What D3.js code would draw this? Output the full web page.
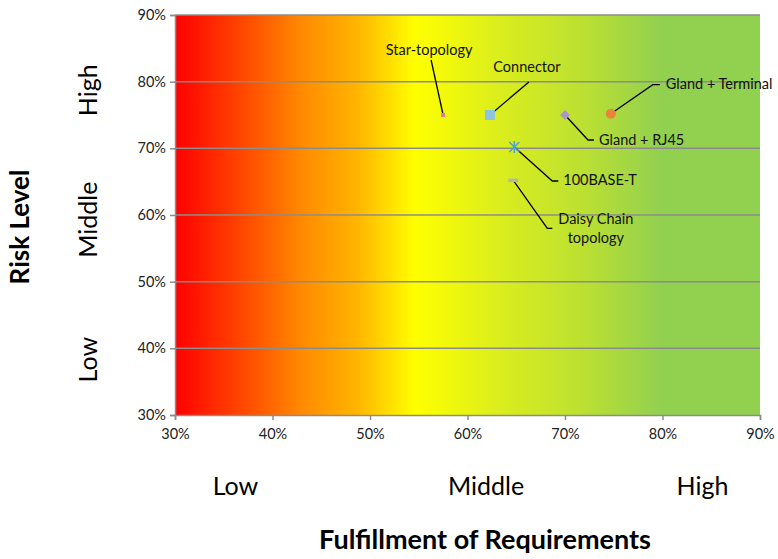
<!DOCTYPE html>
<html><head><meta charset="utf-8">
<script src="https://cdn.jsdelivr.net/npm/d3@7"></script>
<style>html,body{margin:0;padding:0;background:#fff;} svg{display:block;font-family:Lato,"Open Sans",sans-serif;}</style>
</head><body><svg id="c" width="778" height="559"></svg>
<script>
// ---- data ----
const pointLabels = ["Star-topology","Connector","Gland + RJ45","Gland + Terminal","100BASE-T","Daisy Chain topology"];
const fulfillment = [0.575, 0.623, 0.70, 0.747, 0.648, 0.647];
const riskLevel   = [0.75, 0.75, 0.75, 0.752, 0.702, 0.652];
const xTicks = [0.3,0.4,0.5,0.6,0.7,0.8,0.9];
const yTicks = [0.3,0.4,0.5,0.6,0.7,0.8,0.9];
const xCategories = ["Low","Middle","High"];
const xCategoryPos = [0.362, 0.619, 0.841];
const yCategories = ["Low","Middle","High"];
const yCategoryPos = [0.383, 0.593, 0.787];

// ---- layout ----
const svg = d3.select("#c");
const L=175,R=760,T=15,B=415;
const x = d3.scaleLinear().domain([0.3,0.9]).range([L,R]);
const y = d3.scaleLinear().domain([0.3,0.9]).range([B,T]);

const defs = svg.append("defs");
const g = defs.append("linearGradient").attr("id","bg").attr("x1","0").attr("x2","1").attr("y1","0").attr("y2","0");
[[0,"#ff0000"],[0.12,"#ff4a00"],[0.22,"#ff8c00"],[0.31,"#ffb400"],[0.41,"#ffff00"],[0.55,"#dcee1c"],[0.7,"#bbe032"],[0.83,"#92d050"],[1,"#92d050"]]
  .forEach(([o,c])=>g.append("stop").attr("offset",o).attr("stop-color",c));

svg.append("rect").attr("x",L).attr("y",T).attr("width",R-L).attr("height",B-T).attr("fill","url(#bg)");

// gridlines
svg.append("g").selectAll("line").data(yTicks.slice(1)).join("line")
  .attr("x1",L).attr("x2",R).attr("y1",d=>y(d)).attr("y2",d=>y(d))
  .attr("stroke","#8c8c8c").attr("stroke-width",1.5);

// axes
const fmt = d3.format(".0%");
const ya = svg.append("g").attr("transform",`translate(${L},0)`)
  .call(d3.axisLeft(y).tickValues(yTicks).tickFormat(fmt).tickSize(5).tickPadding(4));
const xa = svg.append("g").attr("transform",`translate(0,${B})`)
  .call(d3.axisBottom(x).tickValues(xTicks).tickFormat(fmt).tickSize(5).tickPadding(9));
[ya,xa].forEach(a=>{
  a.select(".domain").attr("stroke","#8c8c8c").attr("stroke-width",1.5);
  a.selectAll(".tick line").attr("stroke","#8c8c8c").attr("stroke-width",1.5);
  a.selectAll("text").attr("font-size",14.5).attr("fill","#222").attr("font-family","Lato,sans-serif");
});

// leader lines & labels (offsets relative to point, px)
const leader = [
  {pts:[[-12,-55]], lx:-14, ly:-64, anchor:"middle"},
  {pts:[[39,-33]], lx:37, ly:-47, anchor:"middle"},
  {pts:[[23,25],[29,25]], lx:34, ly:26, anchor:"start"},
  {pts:[[42,-29],[49,-29]], lx:55, ly:-28, anchor:"start"},
  {pts:[[38,34],[44,34]], lx:49, ly:34, anchor:"start"},
  {pts:[[34,48],[39,48]], lx:45, ly:40, anchor:"start"}
];
const FS=14.5;
const ann = svg.append("g");
pointLabels.forEach((lab,i)=>{
  const px=x(fulfillment[i]), py=y(riskLevel[i]);
  const lay=leader[i];
  const path=[[px,py]].concat(lay.pts.map(p=>[px+p[0],py+p[1]]));
  ann.append("path").attr("d",d3.line()(path)).attr("fill","none").attr("stroke","#000").attr("stroke-width",1.3);
  const t=ann.append("text").attr("x",px+lay.lx).attr("y",py+lay.ly).attr("text-anchor",lay.anchor)
    .attr("dominant-baseline","middle").attr("font-size",FS).attr("fill","#111");
  if(lab==="Daisy Chain topology"){
    t.text("Daisy Chain");
    const w=t.node().getComputedTextLength();
    ann.append("text").attr("x",px+lay.lx+w/2).attr("y",py+lay.ly+19).attr("text-anchor","middle")
      .attr("dominant-baseline","middle").attr("font-size",FS).attr("fill","#111").text("topology");
  } else t.text(lab);
});

// markers
const mk = svg.append("g");
const X=i=>x(fulfillment[i]), Y=i=>y(riskLevel[i]);
mk.append("rect").attr("x",X(0)-2).attr("y",Y(0)-2).attr("width",4).attr("height",4).attr("fill","#e07a9a");
mk.append("rect").attr("x",X(1)-5).attr("y",Y(1)-5).attr("width",10).attr("height",10).attr("fill","#8cc4e2");
mk.append("path").attr("transform",`translate(${X(2)},${Y(2)}) rotate(45)`).attr("d","M-3.5,-3.5H3.5V3.5H-3.5Z").attr("fill","#a897c8");
mk.append("circle").attr("cx",X(3)).attr("cy",Y(3)).attr("r",5).attr("fill","#e8843c");
const st=mk.append("g").attr("transform",`translate(${X(4)},${Y(4)})`).attr("stroke","#4aa3d0").attr("stroke-width",1.5);
st.append("line").attr("x1",-5).attr("x2",5).attr("y1",-5).attr("y2",5);
st.append("line").attr("x1",-5).attr("x2",5).attr("y1",5).attr("y2",-5);
st.append("line").attr("x1",0).attr("x2",0).attr("y1",-6).attr("y2",6);
mk.append("rect").attr("x",X(5)-5).attr("y",Y(5)-1.75).attr("width",10).attr("height",3.5).attr("fill","#b3bb9c");

// category labels
svg.append("g").selectAll("text").data(xCategories).join("text")
  .attr("x",(d,i)=>x(xCategoryPos[i])).attr("y",489).attr("text-anchor","middle").attr("dominant-baseline","middle")
  .attr("font-size",25).attr("fill","#000").text(d=>d);
svg.append("g").selectAll("text").data(yCategories).join("text")
  .attr("transform",(d,i)=>`translate(91,${y(yCategoryPos[i])}) rotate(-90)`).attr("text-anchor","middle").attr("dominant-baseline","middle")
  .attr("font-size",25).attr("fill","#000").text(d=>d);

// axis titles
svg.append("text").attr("transform","translate(22,227) rotate(-90)").attr("text-anchor","middle").attr("dominant-baseline","middle")
  .attr("font-size",26).attr("font-weight","bold").attr("fill","#000").text("Risk Level");
svg.append("text").attr("x",485).attr("y",542).attr("text-anchor","middle").attr("dominant-baseline","middle")
  .attr("font-size",27).attr("font-weight","bold").attr("fill","#000").text("Fulfillment of Requirements");
</script></body></html>
